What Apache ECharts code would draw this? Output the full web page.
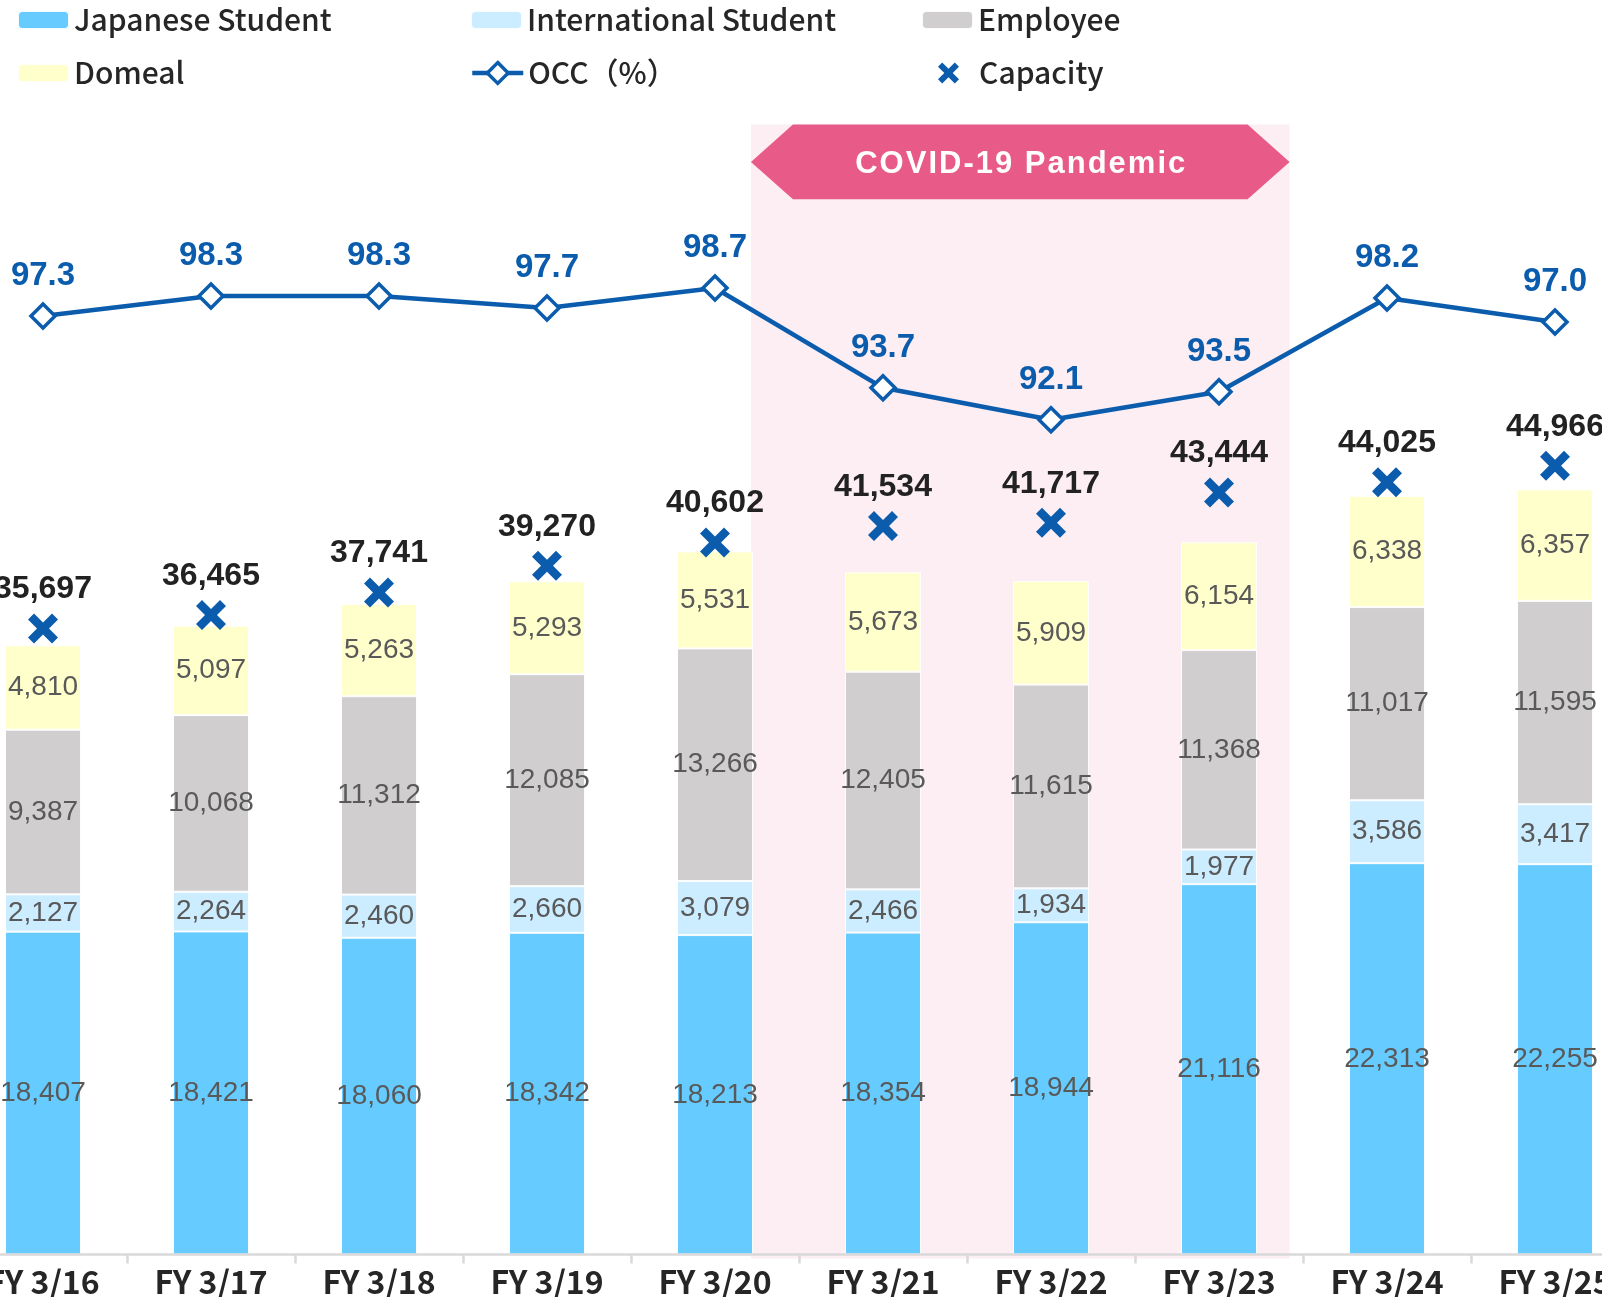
<!DOCTYPE html>
<html>
<head>
<meta charset="utf-8">
<script src="https://cdn.jsdelivr.net/npm/echarts@6/dist/echarts.min.js"></script>
<style>
html,body{margin:0;padding:0;background:#fff;}
#chart{width:1602px;height:1297px;}
</style>
</head>
<body>
<div id="chart"></div>
<script>
const categories = ['FY 3/16','FY 3/17','FY 3/18','FY 3/19','FY 3/20','FY 3/21','FY 3/22','FY 3/23','FY 3/24','FY 3/25'];
const japaneseStudent = [18407,18421,18060,18342,18213,18354,18944,21116,22313,22255];
const internationalStudent = [2127,2264,2460,2660,3079,2466,1934,1977,3586,3417];
const employee = [9387,10068,11312,12085,13266,12405,11615,11368,11017,11595];
const domeal = [4810,5097,5263,5293,5531,5673,5909,6154,6338,6357];
const occ = [97.3,98.3,98.3,97.7,98.7,93.7,92.1,93.5,98.2,97.0];
const capacity = [35697,36465,37741,39270,40602,41534,41717,43444,44025,44966];
const covidStart = 'FY 3/21', covidEnd = 'FY 3/23';
const covidText = 'COVID-19 Pandemic';

const NUM_FONT = 'Liberation Sans, Arial, sans-serif';
const JP_FONT = 'Noto Sans CJK JP, sans-serif';
const fmt = v => Number(v).toLocaleString('en-US');
const xPath = 'path://M2,0 L5,3 L8,0 L10,2 L7,5 L10,8 L8,10 L5,7 L2,10 L0,8 L3,5 L0,2 Z';
const BLUE = '#0B5CAD';

const chart = echarts.init(document.getElementById('chart'), null, {renderer:'canvas'});

function barSeries(name, data, color){
  return {
    name, type:'bar', stack:'total', data, barWidth:76,
    itemStyle:{color, borderColor:'rgba(255,255,255,0.9)', borderWidth:1},
    label:{show:true, position:'inside', color:'#595959', fontSize:28, fontFamily:NUM_FONT,
      formatter:p=>fmt(p.value)},
    z:2
  };
}
function legendAt(name, left, top, extra){
  return Object.assign({
    show:true, data:[name], left, top, padding:0, itemWidth:51, itemHeight:18, itemGap:0, selectedMode:false,
    textStyle:{fontSize:30, fontWeight:500, fontFamily:JP_FONT, color:'#262626', lineHeight:34}
  }, extra||{});
}

const option = {
  animation:false,
  backgroundColor:'#fff',
  legend:[
    legendAt('Japanese Student', 17, 3),
    legendAt('International Student', 470, 3),
    legendAt('Employee', 921, 3),
    legendAt('Domeal', 17, 56),
    legendAt('OCC（%）', 470, 56, {itemHeight:26, top:56,
      data:[{name:'OCC（%）', lineStyle:{width:4.5, color:BLUE}, itemStyle:{color:'#fff', borderColor:BLUE, borderWidth:3.5}}]}),
    legendAt('Capacity', 938, 56, {itemWidth:21, itemHeight:21,
      data:[{name:'Capacity', icon:xPath, itemStyle:{color:BLUE, opacity:1}}],
      textStyle:{fontSize:30, fontWeight:500, fontFamily:JP_FONT, color:'#262626', lineHeight:34, padding:[0,0,0,15]}})
  ],
  grid:{left:-41, right:-37, top:262, bottom:42.5, outerBoundsMode:'none', containLabel:false},
  xAxis:{
    type:'category', data:categories, z:5,
    axisLine:{lineStyle:{color:'#D9D9D9', width:2.5}},
    axisTick:{show:true, length:9, lineStyle:{color:'#D9D9D9', width:2.5}},
    axisLabel:{fontSize:32, fontWeight:'bold', fontFamily:JP_FONT, color:'#262626', margin:11}
  },
  yAxis:[
    {type:'value', min:0, max:56590, show:false, splitLine:{show:false}},
    {type:'value', min:50.3, max:100, show:false, splitLine:{show:false}}
  ],
  series:[
    barSeries('Japanese Student', japaneseStudent, '#66CCFF'),
    barSeries('International Student', internationalStudent, '#CCECFF'),
    barSeries('Employee', employee, '#D0CECF'),
    barSeries('Domeal', domeal, '#FFFFCC'),
    {
      name:'OCC（%）', type:'line', yAxisIndex:1, data:occ, z:6,
      symbol:'diamond', symbolSize:24, showAllSymbol:true,
      lineStyle:{color:BLUE, width:4.5},
      itemStyle:{color:'#fff', borderColor:BLUE, borderWidth:3.5},
      label:{show:true, position:'top', distance:10, color:BLUE, fontSize:33, fontWeight:'bold',
        fontFamily:NUM_FONT, formatter:p=>Number(p.value).toFixed(1)}
    },
    {
      name:'Capacity', type:'scatter', data:capacity, z:5,
      symbol:xPath, symbolSize:30,
      itemStyle:{color:BLUE, opacity:1},
      label:{show:true, position:'top', distance:8, color:'#222222', fontSize:32, fontWeight:'bold',
        fontFamily:NUM_FONT, formatter:p=>fmt(p.value)}
    }
  ]
};
chart.setOption(option);

// COVID annotation band placed from category positions
const iS = categories.indexOf(covidStart), iE = categories.indexOf(covidEnd);
const cS = chart.convertToPixel({xAxisIndex:0}, categories[iS]);
const cE = chart.convertToPixel({xAxisIndex:0}, categories[iE]);
const bw = chart.convertToPixel({xAxisIndex:0}, categories[1]) - chart.convertToPixel({xAxisIndex:0}, categories[0]);
const bandL = cS - bw*0.786, bandR = cE + bw*0.42;
const baseY = chart.convertToPixel({yAxisIndex:0}, 0);
const bTop = 124.6, bBot = 199.2, notch = 42;
const midY = (bTop+bBot)/2;

// letter-spaced banner text
const bannerFont = 'bold 31px Liberation Sans, Arial, sans-serif';
const spacing = 2;
const mctx = document.createElement('canvas').getContext('2d');
mctx.font = bannerFont;
const chars = covidText.split('');
const widths = chars.map(c => mctx.measureText(c).width);
const totalW = widths.reduce((a,b)=>a+b,0) + spacing*(chars.length-1);
let cx = (bandL+bandR)/2 - totalW/2;
const textEls = chars.map((c,i) => {
  const el = {type:'text', z:21, silent:true, x:cx, y:midY+3, style:{text:c, fill:'#fff', font:bannerFont, align:'left', verticalAlign:'middle'}};
  cx += widths[i] + spacing;
  return el;
});

chart.setOption({
  graphic:[
    {type:'rect', z:-1, silent:true, shape:{x:bandL, y:bTop, width:bandR-bandL, height:baseY+4-bTop}, style:{fill:'#FCEEF3'}},
    {type:'polygon', z:20, silent:true, shape:{points:[[bandL,midY],[bandL+notch,bTop],[bandR-notch,bTop],[bandR,midY],[bandR-notch,bBot],[bandL+notch,bBot]]}, style:{fill:'#E85A87'}}
  ].concat(textEls)
});
</script>
</body>
</html>
